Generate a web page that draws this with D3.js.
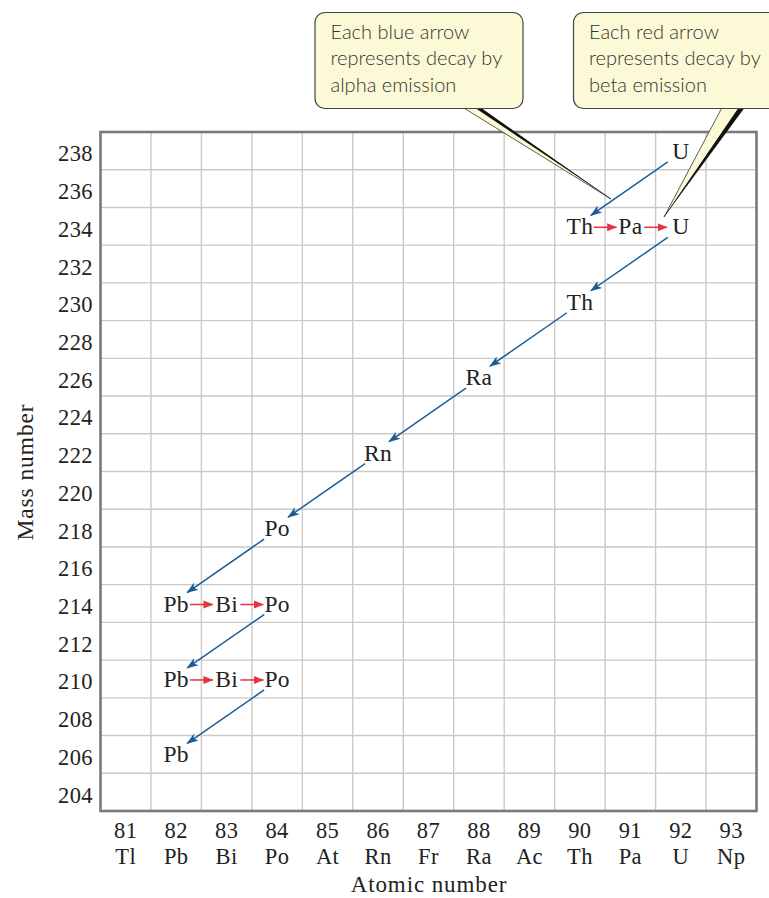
<!DOCTYPE html>
<html>
<head>
<meta charset="utf-8">
<script src="https://cdn.jsdelivr.net/npm/d3@7"></script>
<style>
  html, body { margin: 0; padding: 0; background: #fff; }
  svg { display: block; }
</style>
</head>
<body>
<svg id="chart" width="769" height="898"></svg>
<script>
// ---- Data ----
const atomicNumbers = [81, 82, 83, 84, 85, 86, 87, 88, 89, 90, 91, 92, 93];
const elementSymbols = ["Tl", "Pb", "Bi", "Po", "At", "Rn", "Fr", "Ra", "Ac", "Th", "Pa", "U", "Np"];
const massTicks = [238, 236, 234, 232, 230, 228, 226, 224, 222, 220, 218, 216, 214, 212, 210, 208, 206, 204];

// Decay chain U-238 -> Pb-206
const chainSymbols = ["U", "Th", "Pa", "U", "Th", "Ra", "Rn", "Po", "Pb", "Bi", "Po", "Pb", "Bi", "Po", "Pb"];
const chainZ =       [92,  90,   91,   92,  90,   88,   86,   84,   82,   83,   84,   82,   83,   84,   82];
const chainA =       [238, 234,  234,  234, 230,  226,  222,  218,  214,  214,  214,  210,  210,  210,  206];
const decayModes =   ["alpha", "beta", "beta", "alpha", "alpha", "alpha", "alpha", "alpha", "beta", "beta", "alpha", "beta", "beta", "alpha"];

const calloutAlpha = ["Each blue arrow", "represents decay by", "alpha emission"];
const calloutBeta = ["Each red arrow", "represents decay by", "beta emission"];

// ---- Layout ----
const svg = d3.select("#chart");
const plot = { left: 100.5, right: 756.5, top: 132, bottom: 811 };
const serif = "'Liberation Serif', 'DejaVu Serif', serif";
const sans = "Lato, 'Open Sans', sans-serif";
const blue = "#1b5c98";
const red = "#e8333d";
const ink = "#222";

const x = d3.scaleBand().domain(atomicNumbers).range([plot.left, plot.right]).padding(0);
const y = d3.scaleBand().domain(massTicks).range([plot.top, plot.bottom]).padding(0);
// mass value -> y position (row covers two mass units)
const yMass = m => {
  const key = m % 2 === 0 ? m : m + 1;
  return y(key) + y.bandwidth() / 2;
};
const xZ = z => x(z) + x.bandwidth() / 2;

const defs = svg.append("defs");
defs.append("marker").attr("id", "headBlue").attr("viewBox", "0 -5 12 10")
  .attr("refX", 11).attr("refY", 0).attr("markerWidth", 12).attr("markerHeight", 10)
  .attr("markerUnits", "userSpaceOnUse").attr("orient", "auto")
  .append("path").attr("d", "M0,-4.2L12,0L0,4.2L3,0Z").attr("fill", blue);
defs.append("marker").attr("id", "headRed").attr("viewBox", "0 -5 10 10")
  .attr("refX", 9.5).attr("refY", 0).attr("markerWidth", 10).attr("markerHeight", 10)
  .attr("markerUnits", "userSpaceOnUse").attr("orient", "auto")
  .append("path").attr("d", "M0,-4L10,0L0,4Z").attr("fill", red);

// ---- Grid ----
const grid = svg.append("g");
grid.selectAll("line.v").data(atomicNumbers.slice(1)).join("line")
  .attr("x1", d => x(d)).attr("x2", d => x(d))
  .attr("y1", plot.top).attr("y2", plot.bottom)
  .attr("stroke", "#c9c9c9").attr("stroke-width", 1.4);
grid.selectAll("line.h").data(massTicks.slice(1)).join("line")
  .attr("x1", plot.left).attr("x2", plot.right)
  .attr("y1", d => y(d)).attr("y2", d => y(d))
  .attr("stroke", "#c9c9c9").attr("stroke-width", 1.4);
svg.append("rect")
  .attr("x", plot.left).attr("y", plot.top)
  .attr("width", plot.right - plot.left).attr("height", plot.bottom - plot.top)
  .attr("fill", "none").attr("stroke", "#7a7a7a").attr("stroke-width", 2.6);

// ---- Axes labels ----
const tickSize = 22.5;
const yAxis = svg.append("g");
yAxis.selectAll("text").data(massTicks).join("text")
  .attr("x", 93).attr("y", d => y(d) + y.bandwidth() / 2 + 10.5)
  .attr("text-anchor", "end").attr("font-family", serif).attr("font-size", tickSize)
  .attr("letter-spacing", 0.4).attr("fill", ink).text(d => d);

const xAxis = svg.append("g");
xAxis.selectAll("text.num").data(atomicNumbers).join("text")
  .attr("x", d => xZ(d)).attr("y", 838)
  .attr("text-anchor", "middle").attr("font-family", serif).attr("font-size", tickSize)
  .attr("letter-spacing", 0.4).attr("fill", ink).text(d => d);
xAxis.selectAll("text.sym").data(elementSymbols).join("text")
  .attr("x", (d, i) => xZ(atomicNumbers[i])).attr("y", 863.5)
  .attr("text-anchor", "middle").attr("font-family", serif).attr("font-size", tickSize)
  .attr("letter-spacing", 0.4).attr("fill", ink).text(d => d);

svg.append("text").attr("x", 429).attr("y", 892)
  .attr("text-anchor", "middle").attr("font-family", serif).attr("font-size", 23)
  .attr("letter-spacing", 0.9).attr("fill", ink).text("Atomic number");
svg.append("text").attr("transform", "translate(33,472) rotate(-90)")
  .attr("text-anchor", "middle").attr("font-family", serif).attr("font-size", 23.5)
  .attr("letter-spacing", 0.9).attr("fill", ink).text("Mass number");

// ---- Nuclide labels ----
svg.append("g").selectAll("text").data(chainSymbols).join("text")
  .attr("x", (d, i) => xZ(chainZ[i])).attr("y", (d, i) => yMass(chainA[i]) + 8)
  .attr("text-anchor", "middle").attr("font-family", serif).attr("font-size", 23.5)
  .attr("letter-spacing", 0.3).attr("fill", ink).text(d => d);

// ---- Decay arrows ----
const decays = decayModes.map((mode, i) => ({ mode, from: i, to: i + 1 }));
const arrows = svg.append("g");
arrows.selectAll("line.alpha").data(decays.filter(d => d.mode === "alpha")).join("line")
  .attr("x1", d => xZ(chainZ[d.from]) - 13)
  .attr("y1", d => yMass(chainA[d.from]) + 11)
  .attr("x2", d => xZ(chainZ[d.to]) + 11)
  .attr("y2", d => yMass(chainA[d.to]) - 11)
  .attr("stroke", blue).attr("stroke-width", 1.5)
  .attr("marker-end", "url(#headBlue)");
arrows.selectAll("line.beta").data(decays.filter(d => d.mode === "beta")).join("line")
  .attr("x1", d => (xZ(chainZ[d.from]) + xZ(chainZ[d.to])) / 2 - 11.5)
  .attr("y1", d => yMass(chainA[d.from]) + 1)
  .attr("x2", d => (xZ(chainZ[d.from]) + xZ(chainZ[d.to])) / 2 + 11.5)
  .attr("y2", d => yMass(chainA[d.to]) + 1)
  .attr("stroke", red).attr("stroke-width", 1.5)
  .attr("marker-end", "url(#headRed)");

// ---- Callouts ----
const cream = "#fcf9d6";
function callout(box, lines, base, tip) {
  const g = svg.append("g");
  // pointer wedge
  g.append("path")
    .attr("d", `M${base[0]},${box.y + box.h - 1} L${tip[0]},${tip[1]} L${base[1]},${box.y + box.h - 1} Z`)
    .attr("fill", cream).attr("stroke", "#333").attr("stroke-width", 0.8);
  // dark shadow edge
  g.append("path")
    .attr("d", `M${base[1] - 2},${box.y + box.h} L${tip[0]},${tip[1]} L${base[1] + 4},${box.y + box.h} Z`)
    .attr("fill", "#111");
  g.append("rect")
    .attr("x", box.x).attr("y", box.y).attr("width", box.w).attr("height", box.h)
    .attr("rx", 10).attr("ry", 10)
    .attr("fill", cream).attr("stroke", "#444").attr("stroke-width", 1.2);
  g.selectAll("text").data(lines).join("text")
    .attr("x", box.x + 15.5).attr("y", (d, i) => box.y + 26 + i * 26.5)
    .attr("font-family", sans).attr("font-size", 20).attr("font-weight", 300)
    .attr("fill", "#333").text(d => d);
}
callout({ x: 315, y: 12.5, w: 208, h: 96 }, calloutAlpha, [463, 478], [611, 199]);
callout({ x: 573.5, y: 12.5, w: 230, h: 96 }, calloutBeta, [722, 740], [664, 217]);
</script>
</body>
</html>
